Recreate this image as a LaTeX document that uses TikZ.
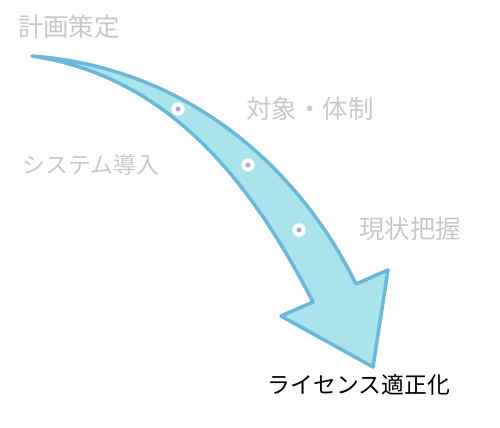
\documentclass[tikz,border=0pt]{standalone}
\usepackage{fontspec}
\newfontfamily\jpfont{Noto Sans CJK JP}
\usepackage{tikz}
\usetikzlibrary{positioning}
\definecolor{arrowfill}{RGB}{170,227,236}
\definecolor{arrowline}{RGB}{108,184,218}
\definecolor{dotcol}{RGB}{170,164,200}
\definecolor{labelgrey}{RGB}{200,200,200}

\begin{document}
\begin{tikzpicture}[x=0.02cm,y=-0.02cm]

\tikzset{stage/.style={font=\jpfont\fontsize{14.5pt}{17pt}\selectfont,text=labelgrey,inner sep=0pt},
kanastage/.style={stage,font=\jpfont\fontsize{13pt}{16pt}\selectfont},
goal/.style={kanastage,text=black},
milestone/.style={shape=circle,fill=white,inner sep=0pt,minimum size=7.6pt},
milecore/.style={shape=circle,fill=dotcol,inner sep=0pt,minimum size=2.8pt}}

\useasboundingbox (0,0) rectangle (500,427);

% Curved arrow
\draw[line width=2pt,line join=round,draw=arrowline,fill=arrowfill]
  (32,56) .. controls (190,68) and (300,170) .. (356,284)
  -- (388,270) -- (373,367) -- (281,316) -- (313,302)
  .. controls (253,186) and (172,77) .. cycle;

% Milestones on the arrow
\foreach \x/\y [count=\i] in {178/109, 248/165, 299/230} {
  \node[milestone] (m\i) at (\x,\y) {};
  \node[milecore] at (m\i) {};
}

% Labels
\node[stage] (plan) at (69,27) {計画策定};
\node[stage] (scope) at (310,109) {対象・体制};
\node[kanastage] (system) at (91,165) {システム導入};
\node[stage] (status) at (410,229) {現状把握};
\node[goal] (license) at (359,385) {ライセンス適正化};

\end{tikzpicture}
\end{document}
